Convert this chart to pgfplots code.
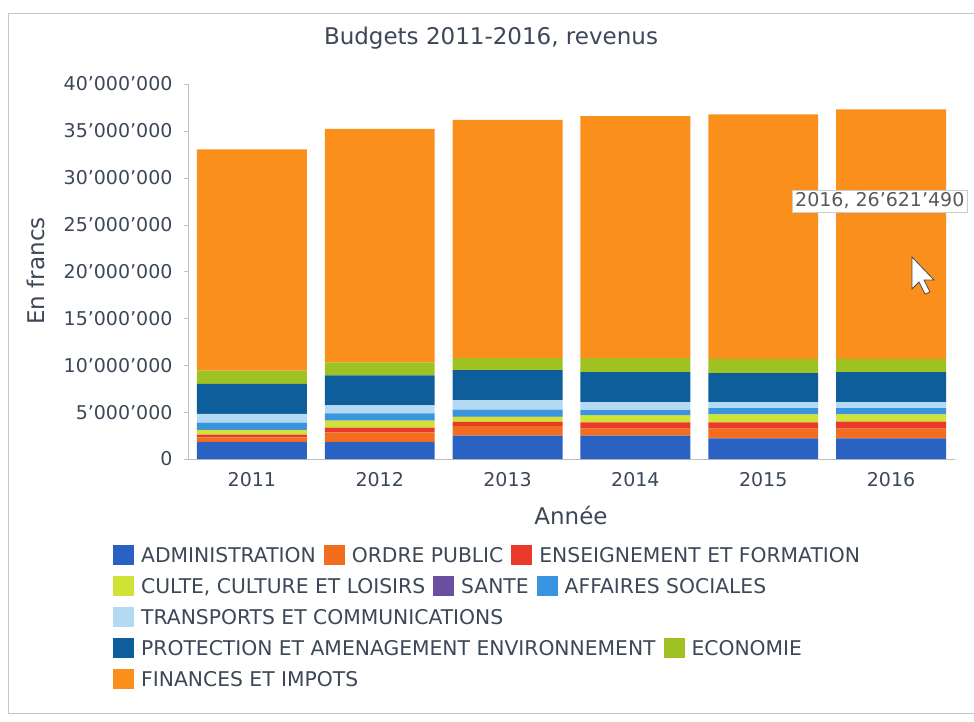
\documentclass[border=0pt]{standalone}
\usepackage{pgfplots}
\usepackage{pgfplotstable}
\pgfplotsset{compat=1.18}
\usepackage{fontspec}
\setmainfont{DejaVu Sans}
\definecolor{txt}{HTML}{3C4757}
\definecolor{cAdm}{HTML}{2A62C4}
\definecolor{cOrd}{HTML}{F26E1E}
\definecolor{cEns}{HTML}{E8392A}
\definecolor{cCul}{HTML}{CFE236}
\definecolor{cSan}{HTML}{6A4FA0}
\definecolor{cAff}{HTML}{3A95E0}
\definecolor{cTra}{HTML}{B3DAF2}
\definecolor{cPro}{HTML}{0E5E9C}
\definecolor{cEco}{HTML}{9DC222}
\definecolor{cFin}{HTML}{FB8F1C}
\newcommand{\legsq}[1]{\textcolor{#1}{\rule[-3pt]{21pt}{20pt}}\hspace{7pt}}
\pgfplotstableread{
x adm ord ens cul san aff tra pro eco fin
0 1800000 500000 300000 500000 20000 750000 950000 3200000 1400000 23600000
1 1800000 1050000 500000 750000 20000 750000 850000 3200000 1400000 24900000
2 2500000 1000000 450000 550000 20000 750000 1000000 3200000 1300000 25400000
3 2500000 750000 650000 750000 20000 550000 850000 3200000 1500000 25800000
4 2200000 1050000 650000 850000 20000 650000 650000 3100000 1500000 26100000
5 2200000 1050000 750000 750000 20000 650000 650000 3200000 1400000 26621490
}\budget
\begin{document}
\begin{tikzpicture}
\useasboundingbox (0,0) rectangle (974pt,721pt);
\draw[gray!45, line width=1pt] (8pt,707pt) -- (974pt,707pt);
\draw[gray!45, line width=1pt] (8pt,707pt) -- (8pt,8pt) -- (974pt,8pt);
\begin{axis}[
  at={(188pt,262pt)}, anchor=south west,
  scale only axis, width=767pt, height=375pt,
  ybar stacked, bar width=0.86,
  xmin=-0.5, xmax=5.5, ymin=0, ymax=40000000,
  scaled y ticks=false,
  xtick={0,1,2,3,4,5},
  xticklabels={2011,2012,2013,2014,2015,2016},
  ytick={0,5000000,10000000,15000000,20000000,25000000,30000000,35000000,40000000},
  yticklabels={0,5'000'000,10'000'000,15'000'000,20'000'000,25'000'000,30'000'000,35'000'000,40'000'000},
  axis x line*=bottom, axis y line*=left,
  axis line style={gray!50,-},
  x tick style={draw=none},
  y tick style={gray!50},
  tick align=outside, major tick length=4pt,
  ticklabel style={font=\fontsize{19}{19}\selectfont, text=txt},
  yticklabel style={xshift=-8pt},
  xticklabel style={yshift=-6pt},
  every axis plot/.append style={draw=none},
  clip=false,
]
\addplot[fill=cAdm] table[x=x,y=adm]{\budget};
\addplot[fill=cOrd] table[x=x,y=ord]{\budget};
\addplot[fill=cEns] table[x=x,y=ens]{\budget};
\addplot[fill=cCul] table[x=x,y=cul]{\budget};
\addplot[fill=cSan] table[x=x,y=san]{\budget};
\addplot[fill=cAff] table[x=x,y=aff]{\budget};
\addplot[fill=cTra] table[x=x,y=tra]{\budget};
\addplot[fill=cPro] table[x=x,y=pro]{\budget};
\addplot[fill=cEco] table[x=x,y=eco]{\budget};
\addplot[fill=cFin] table[x=x,y=fin]{\budget};
\end{axis}
\node[font=\fontsize{23}{23}\selectfont, text=txt] at (491pt,683pt) {Budgets 2011-2016, revenus};
\node[font=\fontsize{23}{23}\selectfont, text=txt, rotate=90] at (36pt,450pt) {En francs};
\node[font=\fontsize{23}{23}\selectfont, text=txt] at (571pt,206pt) {Année};
\node[draw=gray!40, fill=white, font=\fontsize{19}{19}\selectfont, text=gray!70!black, inner sep=3pt, anchor=west] at (792pt,520pt) {2016, 26'621'490};
\draw[fill=white, draw=black!70, line width=0.8pt] (912pt,464pt) -- (912pt,432pt) -- (919pt,439pt) -- (925pt,427pt) -- (930pt,429pt) -- (924pt,441pt) -- (934pt,441pt) -- cycle;
\begin{scope}[every node/.style={anchor=west, font=\fontsize{20.3}{20.3}\selectfont, text=txt, inner sep=0pt}]
\node at (113pt,166pt) {\legsq{cAdm}ADMINISTRATION\hspace{8pt}\legsq{cOrd}ORDRE PUBLIC\hspace{8pt}\legsq{cEns}ENSEIGNEMENT ET FORMATION};
\node at (113pt,135pt) {\legsq{cCul}CULTE, CULTURE ET LOISIRS\hspace{8pt}\legsq{cSan}SANTE\hspace{8pt}\legsq{cAff}AFFAIRES SOCIALES};
\node at (113pt,104pt) {\legsq{cTra}TRANSPORTS ET COMMUNICATIONS};
\node at (113pt,73pt) {\legsq{cPro}PROTECTION ET AMENAGEMENT ENVIRONNEMENT\hspace{8pt}\legsq{cEco}ECONOMIE};
\node at (113pt,42pt) {\legsq{cFin}FINANCES ET IMPOTS};
\end{scope}
\end{tikzpicture}
\end{document}
